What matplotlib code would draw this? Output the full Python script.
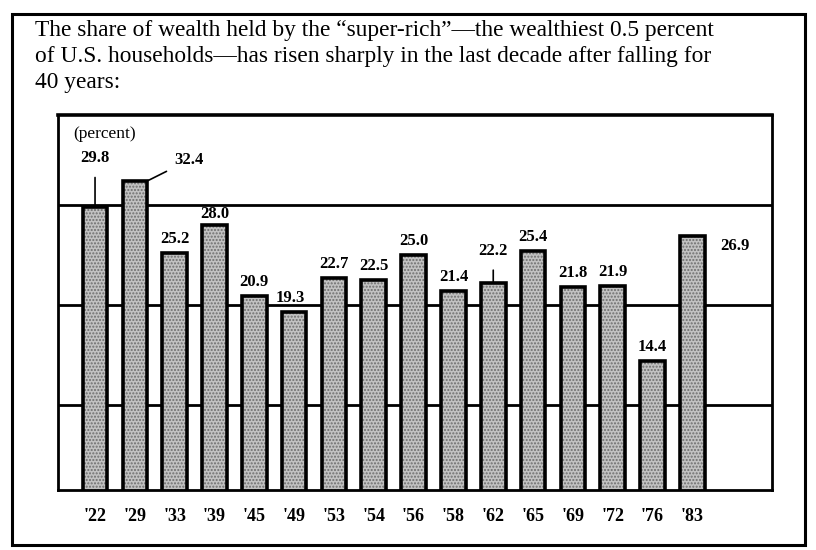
import matplotlib.pyplot as plt
from matplotlib.patches import Rectangle

# Share of wealth held by the wealthiest 0.5% of U.S. households
YEARS = ["'22", "'29", "'33", "'39", "'45", "'49", "'53", "'54",
         "'56", "'58", "'62", "'65", "'69", "'72", "'76", "'83"]
SHARE = [29.8, 32.4, 25.2, 28.0, 20.9, 19.3, 22.7, 22.5,
         25.0, 21.4, 22.2, 25.4, 21.8, 21.9, 14.4, 26.9]
LABELS = ['29.8', '32.4', '25.2', '28.0', '20.9', '19.3', '22.7', '22.5',
          '25.0', '21.4', '22.2', '25.4', '21.8', '21.9', '14.4', '26.9']
GRID_VALUES = [10, 20, 30]

TITLE = ("The share of wealth held by the \u201csuper-rich\u201d\u2014the wealthiest 0.5 percent\n"
         "of U.S. households\u2014has risen sharply in the last decade after falling for\n"
         "40 years:")

SERIF = ['Liberation Serif', 'DejaVu Serif']

fig = plt.figure(figsize=(8.16, 5.5), dpi=100)
fig.patch.set_facecolor('white')

# outer frame around the whole clipping
fig.patches.append(Rectangle((12 / 816, 1 - 545 / 550), (805 - 12) / 816, (545 - 14) / 550,
                             transform=fig.transFigure, fill=False,
                             edgecolor='black', linewidth=2.2))

fig.text(35 / 816, 1 - 20 / 550, TITLE, family=SERIF, fontsize=16.8,
         ha='left', va='top', linespacing=1.3)

ax = fig.add_axes([58 / 816, 1 - 490 / 550, (772 - 58) / 816, (490 - 115) / 550])
x = list(range(len(YEARS)))

for g in GRID_VALUES:
    ax.axhline(g, color='black', linewidth=2, zorder=1)

# stippled fill, then black outline
ax.bar(x, SHARE, width=0.62, color='#c2c2c2', edgecolor='#6e6e6e',
       hatch='.....', linewidth=0, zorder=2)
ax.bar(x, SHARE, width=0.62, fill=False, edgecolor='black', linewidth=2.6, zorder=3)

txt = dict(family=SERIF, fontsize=12, fontweight='bold', ha='center', va='center')

for i, (v, lab) in enumerate(zip(SHARE, LABELS)):
    if i == 0:
        ax.annotate(lab, xy=(i, v), xytext=(0, 35), textcoords='offset points',
                    arrowprops=dict(arrowstyle='-', color='black', lw=1.2,
                                    shrinkA=6, shrinkB=0), **txt)
    elif i == 1:
        ax.annotate(lab, xy=(i + 0.31, v), xytext=(30, 15), textcoords='offset points',
                    arrowprops=dict(arrowstyle='-', color='black', lw=1.2,
                                    shrinkA=4, shrinkB=0), **txt)
    elif i == 10:
        ax.annotate(lab, xy=(i, v), xytext=(0, 23), textcoords='offset points',
                    arrowprops=dict(arrowstyle='-', color='black', lw=1.2,
                                    shrinkA=6, shrinkB=0), **txt)
    elif i == len(SHARE) - 1:
        ax.annotate(lab, xy=(i, v), xytext=(31, -7), textcoords='offset points', **txt)
    elif i == 5:
        ax.annotate(lab, xy=(i, v), xytext=(-3, 10), textcoords='offset points', **txt)
    elif i == 3:
        ax.annotate(lab, xy=(i, v), xytext=(0, 8), textcoords='offset points', **txt)
    else:
        ax.annotate(lab, xy=(i, v), xytext=(0, 10), textcoords='offset points', **txt)

ax.text(0.022, 0.97, '(percent)', transform=ax.transAxes, family=SERIF,
        fontsize=12.5, ha='left', va='top')

ax.set_xlim(-0.93, 17.0)
ax.set_ylim(1.5, 39)
ax.set_xticks(x)
ax.set_xticklabels(YEARS, family=SERIF, fontsize=13, fontweight='bold')
ax.tick_params(axis='x', length=0, pad=13)
ax.set_yticks([])
for side in ['left', 'right', 'bottom']:
    ax.spines[side].set_linewidth(2)
ax.spines['top'].set_linewidth(2.6)

plt.savefig('out.png', dpi=100)
